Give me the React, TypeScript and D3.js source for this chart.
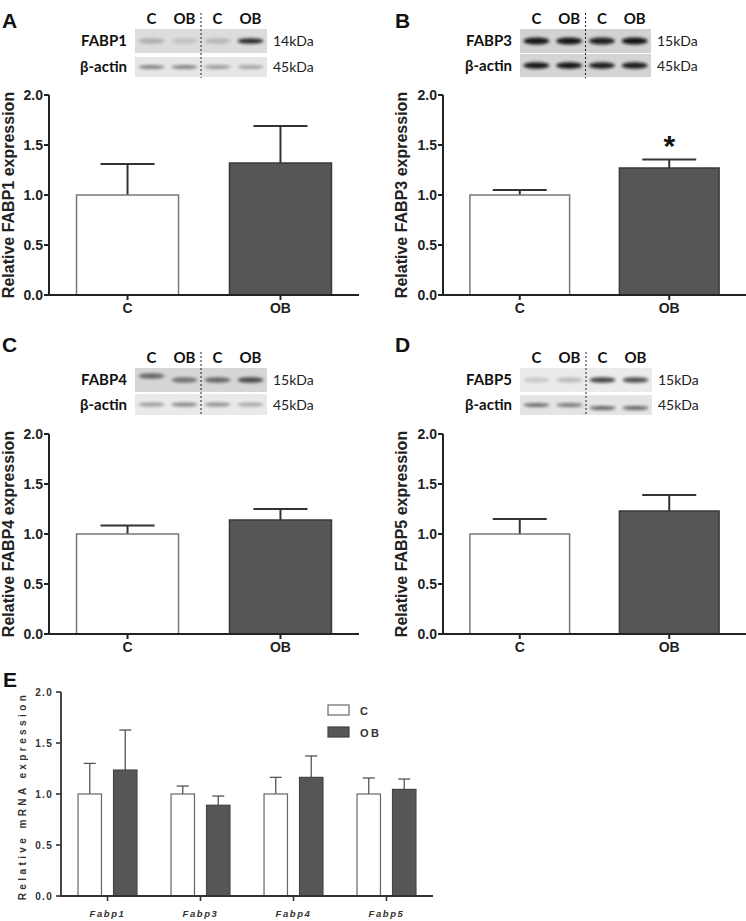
import React from "react";
import * as d3 from "d3";

// ---------- DATA ----------
const groups = ["C", "OB"];
const proteinNames = ["FABP1", "FABP3", "FABP4", "FABP5"];
const proteinKda = ["14kDa", "15kDa", "15kDa", "15kDa"];
const proteinMeans = [
  [1.0, 1.32],
  [1.0, 1.27],
  [1.0, 1.14],
  [1.0, 1.23],
];
const proteinErrTops = [
  [1.31, 1.69],
  [1.05, 1.355],
  [1.085, 1.25],
  [1.15, 1.39],
];
const proteinSig = [
  ["", ""],
  ["", "*"],
  ["", ""],
  ["", ""],
];
const laneLabels = ["C", "OB", "C", "OB"];
// band intensities (0..1) per lane, target band / beta-actin band
const targetBands = [
  [0.22, 0.12, 0.18, 0.85],
  [0.95, 0.95, 0.9, 0.97],
  [0.55, 0.5, 0.55, 0.7],
  [0.15, 0.2, 0.75, 0.7],
];
const actinBands = [
  [0.45, 0.45, 0.35, 0.3],
  [0.95, 0.95, 0.9, 0.92],
  [0.35, 0.45, 0.4, 0.3],
  [0.55, 0.5, 0.6, 0.6],
];
const yTicks = [0, 0.5, 1.0, 1.5, 2.0];

const genes = ["Fabp1", "Fabp3", "Fabp4", "Fabp5"];
const mrnaC = [1.0, 1.0, 1.0, 1.0];
const mrnaOB = [1.235, 0.89, 1.163, 1.045];
const mrnaCErr = [1.3, 1.078, 1.163, 1.157];
const mrnaOBErr = [1.627, 0.98, 1.373, 1.147];

const panelLetters = ["A", "B", "C", "D", "E"];

// ---------- STYLE ----------
const ARIAL = "'Liberation Sans', Arial, sans-serif";
const BLOTFONT = "Lato, 'Open Sans', sans-serif";
const OB_FILL = "#545658";

type PanelLayout = {
  letterX: number;
  letterY: number;
  axisX: number;
  axisEnd: number;
  y0: number;
  blotX: number;
  blotY: number;
  blotW: number;
  targetH: number;
  actinY: number;
  actinH: number;
  labelBaseX: number;
};

const layouts: PanelLayout[] = [
  { letterX: 2, letterY: 28, axisX: 49, axisEnd: 359, y0: 295, blotX: 135, blotY: 29, blotW: 132, targetH: 24, actinY: 57, actinH: 20, labelBaseX: 14 },
  { letterX: 395, letterY: 28, axisX: 443, axisEnd: 746, y0: 295, blotX: 520, blotY: 29, blotW: 131, targetH: 24, actinY: 54, actinH: 23, labelBaseX: 407 },
  { letterX: 2, letterY: 352, axisX: 49, axisEnd: 359, y0: 634, blotX: 135, blotY: 368, blotW: 132, targetH: 24, actinY: 394, actinH: 21, labelBaseX: 14 },
  { letterX: 395, letterY: 352, axisX: 443, axisEnd: 746, y0: 634, blotX: 520, blotY: 368, blotW: 132, targetH: 24, actinY: 395, actinH: 20, labelBaseX: 407 },
];

function Blot({ L, idx }: { L: PanelLayout; idx: number }) {
  const lanes = d3.scaleBand<number>().domain([0, 1, 2, 3]).range([L.blotX, L.blotX + L.blotW]);
  const mid = L.blotX + L.blotW / 2;
  const tCy = L.blotY + L.targetH / 2;
  const aCy = L.actinY + L.actinH / 2;
  const bgT = ["#dcdcdc", "#d2d2d2", "#d6d6d6", "#ebebeb"][idx];
  const bgA = ["#e6e6e6", "#d4d4d4", "#e9e9e9", "#e4e4e4"][idx];
  return (
    <g>
      {laneLabels.map((l, i) => (
        <text key={"h" + i} x={lanes(i)! + lanes.bandwidth() / 2} y={L.blotY - 5} textAnchor="middle"
          fontFamily={BLOTFONT} fontWeight="bold" fontSize={15} fill="#111">{l}</text>
      ))}
      <rect x={L.blotX} y={L.blotY} width={L.blotW} height={L.targetH} fill={bgT} />
      <rect x={L.blotX} y={L.actinY} width={L.blotW} height={L.actinH} fill={bgA} />
      {targetBands[idx].map((v, i) => (
        <ellipse key={"t" + i} cx={lanes(i)! + lanes.bandwidth() / 2} cy={tCy + (idx === 2 && i === 0 ? -4 : 0)}
          rx={13} ry={idx === 1 ? 3.5 : 2.8} fill="#111" opacity={v} filter="url(#blur)" />
      ))}
      {actinBands[idx].map((v, i) => (
        <ellipse key={"a" + i} cx={lanes(i)! + lanes.bandwidth() / 2} cy={aCy + (idx === 3 && i >= 2 ? 3 : 0)}
          rx={13} ry={idx === 1 ? 3.2 : 2} fill="#111" opacity={v} filter="url(#blur)" />
      ))}
      <line x1={mid} x2={mid} y1={L.blotY - 16} y2={L.actinY + L.actinH + 1} stroke="#222" strokeWidth={1} strokeDasharray="2,2" />
      <text x={L.blotX - 8} y={tCy + 5} textAnchor="end" fontFamily={BLOTFONT} fontWeight="bold" fontSize={15} fill="#111">{proteinNames[idx]}</text>
      <text x={L.blotX - 8} y={aCy + 5} textAnchor="end" fontFamily={BLOTFONT} fontWeight="bold" fontSize={15} fill="#111">β-actin</text>
      <text x={L.blotX + L.blotW + 6} y={tCy + 5} fontFamily={BLOTFONT} fontSize={14} fill="#222">{proteinKda[idx]}</text>
      <text x={L.blotX + L.blotW + 6} y={aCy + 5} fontFamily={BLOTFONT} fontSize={14} fill="#222">45kDa</text>
    </g>
  );
}

function ProteinPanel({ idx }: { idx: number }) {
  const L = layouts[idx];
  const y = d3.scaleLinear().domain([0, 2]).range([L.y0, L.y0 - 200]);
  const x = d3.scaleBand<string>().domain(groups).range([L.axisX, L.axisEnd]).paddingInner(0.333).paddingOuter(0.18);
  const bw = x.bandwidth();
  return (
    <g>
      <text x={L.letterX} y={L.letterY} fontFamily={ARIAL} fontWeight="bold" fontSize={21} fill="#111">{panelLetters[idx]}</text>
      <Blot L={L} idx={idx} />
      {groups.map((g, i) => {
        const x0 = x(g)!;
        const cx = x0 + bw / 2;
        const m = proteinMeans[idx][i];
        const e = proteinErrTops[idx][i];
        return (
          <g key={g}>
            <line x1={cx} x2={cx} y1={y(m)} y2={y(e)} stroke="#333" strokeWidth={2} />
            <line x1={cx - 27} x2={cx + 27} y1={y(e)} y2={y(e)} stroke="#333" strokeWidth={2} />
            <rect x={x0} y={y(m)} width={bw} height={y(0) - y(m)} fill={i === 0 ? "#fff" : OB_FILL}
              stroke={i === 0 ? "#777" : "#3a3a3a"} strokeWidth={1.5} />
            {proteinSig[idx][i] && (
              <text x={cx} y={y(e) - 6} textAnchor="middle" fontFamily={ARIAL} fontWeight="bold" fontSize={30} fill="#111" dy="0.55em" transform={`translate(0,-14)`}>{proteinSig[idx][i]}</text>
            )}
          </g>
        );
      })}
      <line x1={L.axisX} x2={L.axisX} y1={y(2)} y2={y(0)} stroke="#222" strokeWidth={2} />
      <line x1={L.axisX - 1} x2={L.axisEnd} y1={y(0)} y2={y(0)} stroke="#222" strokeWidth={2} />
      {yTicks.map((t) => (
        <g key={t}>
          <line x1={L.axisX - 5} x2={L.axisX} y1={y(t)} y2={y(t)} stroke="#222" strokeWidth={2} />
          <text x={L.axisX - 6} y={y(t) + 5} textAnchor="end" fontFamily={ARIAL} fontWeight="bold" fontSize={14} fill="#222">{d3.format(".1f")(t)}</text>
        </g>
      ))}
      {groups.map((g) => (
        <g key={"xt" + g}>
          <line x1={x(g)! + bw / 2} x2={x(g)! + bw / 2} y1={y(0)} y2={y(0) + 5} stroke="#222" strokeWidth={2} />
          <text x={x(g)! + bw / 2} y={y(0) + 18} textAnchor="middle" fontFamily={ARIAL} fontWeight="bold" fontSize={14} fill="#222">{g}</text>
        </g>
      ))}
      <text transform={`translate(${L.labelBaseX},${y(1)}) rotate(-90)`} textAnchor="middle" fontFamily={ARIAL} fontWeight="bold" fontSize={16} fill="#222">
        {`Relative ${proteinNames[idx]} expression`}
      </text>
    </g>
  );
}

function MrnaPanel() {
  const axisX = 61, axisEnd = 433;
  const y = d3.scaleLinear().domain([0, 2]).range([896, 692]);
  const x0 = d3.scaleBand<string>().domain(genes).range([axisX, axisEnd]);
  const x1 = d3.scaleBand<string>().domain(groups).range([0, x0.bandwidth()]).paddingInner(0.34).paddingOuter(0.48);
  const bw = x1.bandwidth();
  const series = [
    { key: "C", vals: mrnaC, errs: mrnaCErr, fill: "#fff", stroke: "#666" },
    { key: "OB", vals: mrnaOB, errs: mrnaOBErr, fill: OB_FILL, stroke: "#444" },
  ];
  return (
    <g>
      <text x={3} y={687} fontFamily={ARIAL} fontWeight="bold" fontSize={21} fill="#111">{panelLetters[4]}</text>
      {genes.map((gname, gi) => (
        <g key={gname}>
          {series.map((s) => {
            const bx = x0(gname)! + x1(s.key)!;
            const cx = bx + bw / 2;
            return (
              <g key={s.key}>
                <line x1={cx} x2={cx} y1={y(s.vals[gi])} y2={y(s.errs[gi])} stroke="#555" strokeWidth={1.3} />
                <line x1={cx - 6} x2={cx + 6} y1={y(s.errs[gi])} y2={y(s.errs[gi])} stroke="#555" strokeWidth={1.3} />
                <rect x={bx} y={y(s.vals[gi])} width={bw} height={y(0) - y(s.vals[gi])} fill={s.fill} stroke={s.stroke} strokeWidth={1.2} />
              </g>
            );
          })}
          <line x1={x0(gname)! + x0.bandwidth() / 2} x2={x0(gname)! + x0.bandwidth() / 2} y1={y(0)} y2={y(0) + 5} stroke="#333" strokeWidth={1.6} />
          <text x={x0(gname)! + x0.bandwidth() / 2} y={917} textAnchor="middle" fontFamily={ARIAL} fontWeight="bold" fontStyle="italic" fontSize={9.5} letterSpacing={1.6} fill="#333">{gname}</text>
        </g>
      ))}
      <line x1={axisX} x2={axisX} y1={y(2)} y2={y(0)} stroke="#333" strokeWidth={1.8} />
      <line x1={axisX - 1} x2={axisEnd} y1={y(0)} y2={y(0)} stroke="#333" strokeWidth={1.8} />
      {yTicks.map((t) => (
        <g key={t}>
          <line x1={axisX - 5} x2={axisX} y1={y(t)} y2={y(t)} stroke="#333" strokeWidth={1.6} />
          <text x={axisX - 8} y={y(t) + 3.5} textAnchor="end" fontFamily={ARIAL} fontWeight="bold" fontSize={10} letterSpacing={1.3} fill="#333">{d3.format(".1f")(t)}</text>
        </g>
      ))}
      <text transform={`translate(26,${y(0.98)}) rotate(-90)`} textAnchor="middle" fontFamily={ARIAL} fontWeight="bold" fontSize={10} letterSpacing={3.4} fill="#333">Relative mRNA expression</text>
      {series.map((s, i) => (
        <g key={"lg" + s.key}>
          <rect x={328} y={705 + i * 22} width={21} height={10} fill={s.fill} stroke={s.stroke} strokeWidth={1.2} />
          <text x={360} y={714.5 + i * 22} fontFamily={ARIAL} fontWeight="bold" fontSize={11} letterSpacing={2.5} fill="#333">{s.key}</text>
        </g>
      ))}
    </g>
  );
}

export default function App() {
  return (
    <div style={{ position: "absolute", left: 0, top: 0 }}>
      <svg width={746} height={921} viewBox="0 0 746 921" style={{ display: "block", background: "#fff" }}>
        <defs>
          <filter id="blur" x="-30%" y="-100%" width="160%" height="300%">
            <feGaussianBlur stdDeviation="1.6" />
          </filter>
        </defs>
        <rect width={746} height={921} fill="#fff" />
        {[0, 1, 2, 3].map((i) => (
          <ProteinPanel key={i} idx={i} />
        ))}
        <MrnaPanel />
      </svg>
    </div>
  );
}
